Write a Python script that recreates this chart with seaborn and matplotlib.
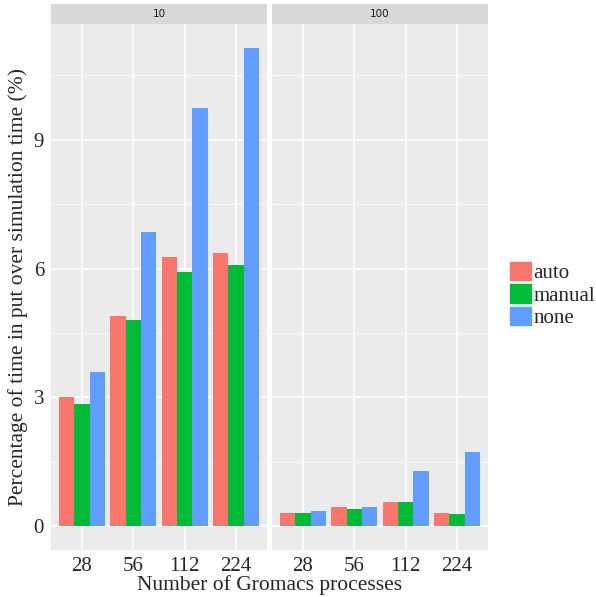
import pandas as pd
import matplotlib.pyplot as plt
import matplotlib.patches as mpatches
import seaborn as sns

# values
processes = ["28", "56", "112", "224"]
methods = ["auto", "manual", "none"]
facets = ["10", "100"]

pct_10_auto = [3.00, 4.90, 6.26, 6.37]
pct_10_manual = [2.84, 4.79, 5.91, 6.09]
pct_10_none = [3.60, 6.84, 9.74, 11.14]

pct_100_auto = [0.30, 0.44, 0.56, 0.30]
pct_100_manual = [0.30, 0.40, 0.56, 0.28]
pct_100_none = [0.35, 0.44, 1.28, 1.72]

colors = ["#F8766D", "#00BA38", "#619CFF"]
yticks = [0, 3, 6, 9]

series = {
    ("10", "auto"): pct_10_auto,
    ("10", "manual"): pct_10_manual,
    ("10", "none"): pct_10_none,
    ("100", "auto"): pct_100_auto,
    ("100", "manual"): pct_100_manual,
    ("100", "none"): pct_100_none,
}
rows = []
for (facet, method), vals in series.items():
    for p, v in zip(processes, vals):
        rows.append({"facet": facet, "method": method, "procs": p, "pct": v})
df = pd.DataFrame(rows)

sns.set_style("white")
plt.rcParams["font.family"] = ["Liberation Serif", "DejaVu Serif"]

W, H = 596, 597
fig = plt.figure(figsize=(W / 100, H / 100), dpi=100)

panel_left = [51, 272]
panel_w = 216
panel_top, panel_bottom = 24, 550
strip_top = 4

ymax = df["pct"].max()
ylim = (-0.05 * ymax, ymax * 1.05)

for i, facet in enumerate(facets):
    x0 = panel_left[i]
    ax = fig.add_axes([x0 / W, 1 - panel_bottom / H, panel_w / W, (panel_bottom - panel_top) / H])
    ax.set_facecolor("#EBEBEB")
    sub = df[df["facet"] == facet]
    sns.barplot(data=sub, x="procs", y="pct", hue="method", order=processes,
                hue_order=methods, palette=colors, width=0.9, saturation=1,
                legend=False, ax=ax, errorbar=None, linewidth=0)
    ax.set_ylim(*ylim)
    ax.set_xlim(-0.6, 3.6)
    ax.set_yticks(yticks)
    ax.set_yticks([1.5, 4.5, 7.5, 10.5], minor=True)
    ax.grid(True, which="major", color="white", linewidth=1.1)
    ax.grid(True, which="minor", axis="y", color="white", linewidth=0.5)
    ax.set_axisbelow(True)
    for s in ax.spines.values():
        s.set_visible(False)
    ax.set_xlabel("")
    ax.set_ylabel("")
    ax.tick_params(axis="x", length=3, color="#333333", labelsize=15, pad=2)
    if i == 0:
        ax.tick_params(axis="y", which="major", length=3, color="#333333", labelsize=15, pad=2)
        ax.tick_params(axis="y", which="minor", length=0)
    else:
        ax.tick_params(axis="y", which="both", length=0, labelleft=False)

    sax = fig.add_axes([x0 / W, 1 - panel_top / H, panel_w / W, (panel_top - strip_top) / H])
    sax.set_facecolor("#D9D9D9")
    sax.set_xticks([])
    sax.set_yticks([])
    for s in sax.spines.values():
        s.set_visible(False)
    sax.text(0.5, 0.5, facet, ha="center", va="center", fontsize=7.5,
             color="#1A1A1A", family="DejaVu Sans", transform=sax.transAxes)

fig.text((51 + 488) / 2 / W, 1 - 585 / H, "Number of Gromacs processes",
         ha="center", va="center", fontsize=15.5)
fig.text(18 / W, 1 - 287 / H, "Percentage of time in put over simulation time (%)",
         ha="center", va="center", rotation=90, fontsize=15.5)

handles = [mpatches.Patch(color=c, label=m) for c, m in zip(colors, methods)]
fig.legend(handles=handles, loc="center left", bbox_to_anchor=(491 / W, 1 - 295 / H),
           frameon=False, fontsize=15, handlelength=1.0, handleheight=1.0,
           labelspacing=0.05, handletextpad=0.15)

fig.savefig("out.png", dpi=100)
